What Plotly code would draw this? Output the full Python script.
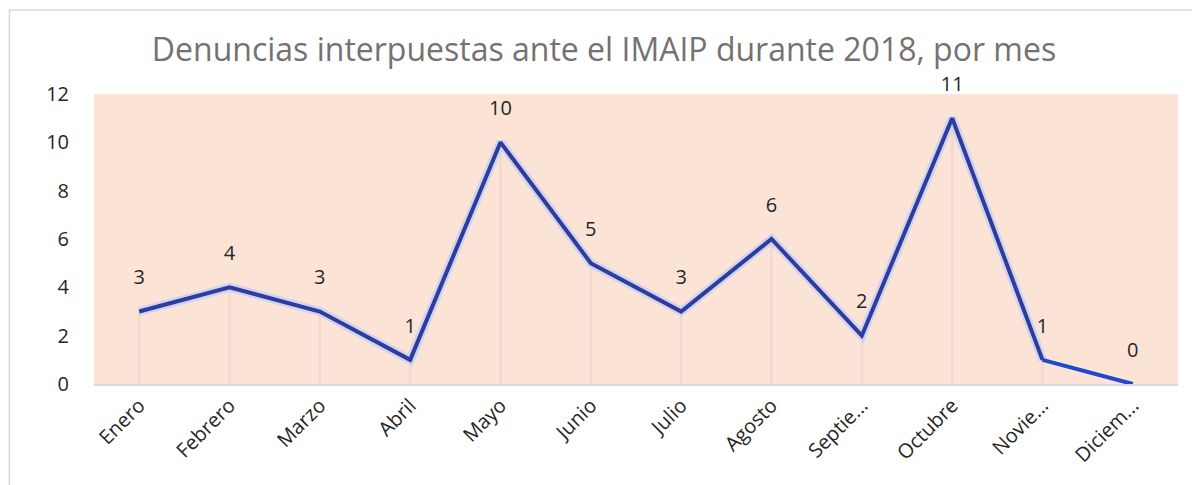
import plotly.graph_objects as go

# Data
meses = ['Enero', 'Febrero', 'Marzo', 'Abril', 'Mayo', 'Junio', 'Julio',
         'Agosto', 'Septie...', 'Octubre', 'Novie...', 'Diciem...']
denuncias = [3, 4, 3, 1, 10, 5, 3, 6, 2, 11, 1, 0]
y_ticks = [0, 2, 4, 6, 8, 10, 12]

main_x, main_y = meses[:11], denuncias[:11]
tail_x, tail_y = meses[10:], denuncias[10:]

fig = go.Figure()

# faint drop lines from each point down to the axis
fig.add_trace(go.Scatter(
    x=main_x, y=main_y, mode='markers',
    marker=dict(size=1, color='rgba(0,0,0,0)'),
    error_y=dict(type='data', symmetric=False, array=[0] * len(main_y),
                 arrayminus=main_y, color='rgba(238,215,205,0.9)',
                 thickness=2.5, width=0),
    hoverinfo='skip', showlegend=False))

# soft halo under the main line
fig.add_trace(go.Scatter(
    x=main_x, y=main_y, mode='lines',
    line=dict(color='rgba(195,205,250,0.75)', width=9),
    hoverinfo='skip', showlegend=False))

fig.add_trace(go.Scatter(
    x=main_x, y=main_y, mode='lines',
    line=dict(color='#2E3C9C', width=4),
    showlegend=False))

fig.add_trace(go.Scatter(
    x=tail_x, y=tail_y, mode='lines',
    line=dict(color='#1F47D0', width=4),
    showlegend=False))

# data labels (invisible big marker pushes text up)
fig.add_trace(go.Scatter(
    x=meses, y=denuncias, mode='markers+text',
    marker=dict(size=34, color='rgba(0,0,0,0)'),
    text=[str(v) for v in denuncias],
    textposition='top center', cliponaxis=False,
    textfont=dict(family='Open Sans', size=20, color='#262626'),
    hoverinfo='skip', showlegend=False))

# page body adds an 8px margin, so figure is sized to fit the window
fig.update_layout(
    width=1192, height=477,
    margin=dict(l=86, r=22, t=86, b=101),
    paper_bgcolor='white',
    plot_bgcolor='#FBE4D6',
    title=dict(text='Denuncias interpuestas ante el IMAIP durante 2018, por mes',
               x=0.5, xanchor='center', y=0.912, yanchor='middle',
               font=dict(family='Open Sans', size=32, color='#767171')),
    xaxis=dict(type='category', range=[-0.5, 11.5], showgrid=False,
               tickangle=-45, ticks='', showline=True, linecolor='#D9D9D9',
               linewidth=2, automargin=False,
               tickfont=dict(family='Open Sans', size=20, color='#262626')),
    yaxis=dict(range=[0, 12], tickvals=y_ticks, showgrid=False,
               zeroline=False, ticks='', ticklabelstandoff=24, automargin=False,
               tickfont=dict(family='Open Sans', size=20, color='#262626')),
    shapes=[dict(type='rect', xref='paper', yref='paper',
                 x0=-0.078, x1=1.05, y0=-0.5, y1=1.29,
                 line=dict(color='#D9D9D9', width=1.5), layer='below')],
)

fig.write_html('out.html')
